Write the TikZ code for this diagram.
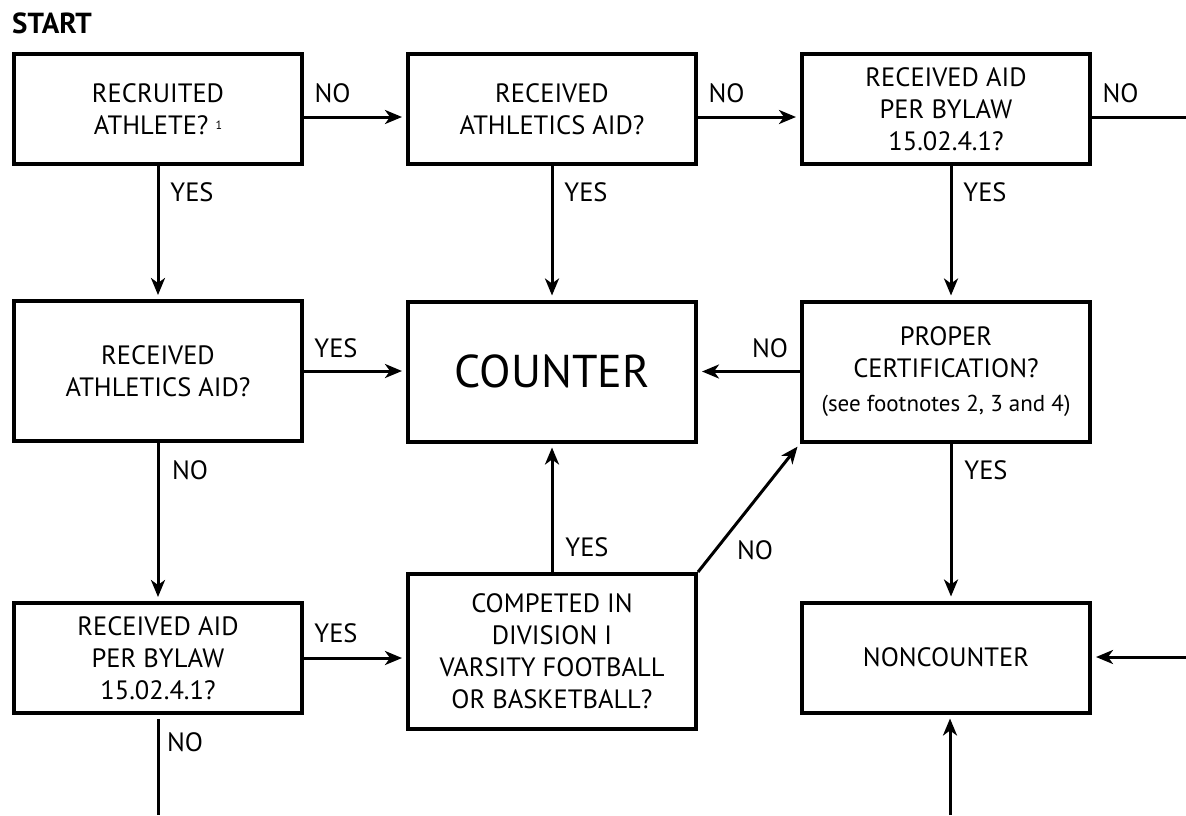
\documentclass[tikz,border=0pt]{standalone}
\usepackage{fontspec}
\setmainfont{PT Sans}
\usetikzlibrary{arrows.meta}
\newcommand\mainsz{\fontsize{26.5}{32}\selectfont}
\newcommand\bigsz{\fontsize{46}{50}\selectfont}
\newcommand\notesz{\fontsize{23}{30}\selectfont}
\begin{document}
\begin{tikzpicture}[x=1pt,y=-1pt,
 box/.style={draw, line width=4pt, minimum width=288pt, inner sep=0pt, align=center, font=\mainsz},
 arr/.style={line width=3pt, shorten >=4pt, -{Stealth[length=17pt,width=14pt,inset=5pt]}},
 ln/.style={line width=3pt},
 lbl/.style={font=\mainsz, inner sep=0pt}]
\useasboundingbox (0,0) rectangle (1186,815);
% boxes
\node[box, minimum height=110pt] (A) at (158,109) {RECRUITED\\ATHLETE?~\raisebox{5pt}{\fontsize{12}{12}\selectfont 1}};
\node[box, minimum height=110pt] (B) at (552,109) {RECEIVED\\ATHLETICS AID?};
\node[box, minimum height=110pt] (C) at (946,109) {RECEIVED AID\\PER BYLAW\\15.02.4.1?};
\node[box, minimum height=140pt] (D) at (158,371) {RECEIVED\\ATHLETICS AID?};
\node[box, minimum height=140pt, font=\bigsz] (E) at (552,371.5) {COUNTER};
\node[box, minimum height=140pt] (F) at (946,371.5) {PROPER\\CERTIFICATION?\\[2pt]{\notesz (see footnotes 2, 3 and 4)}};
\node[box, minimum height=110pt] (G) at (158,658) {RECEIVED AID\\PER BYLAW\\15.02.4.1?};
\node[box, minimum height=155pt] (H) at (552,651.5) {COMPETED IN\\DIVISION I\\VARSITY FOOTBALL\\OR BASKETBALL?};
\node[box, minimum height=110pt] (I) at (946,657.5) {NONCOUNTER};
\node[font=\fontsize{29}{32}\selectfont\bfseries, anchor=west, inner sep=0pt] (S) at (12,23) {START};
% free ends
\coordinate (cR) at (1186,117);
\coordinate (iR) at (1186,657);
\coordinate (iB) at (950,815);
\coordinate (gB) at (157,815);
% connectors
\draw[arr] ([yshift=-8pt]A.east) -- ([yshift=-8pt]B.west);
\draw[arr] ([yshift=-8pt]B.east) -- ([yshift=-8pt]C.west);
\draw[ln] (cR -| C.east) -- (cR);
\draw[arr] (A.south) -- (A.south |- D.north);
\draw[arr] (B.south) -- (B.south |- E.north);
\draw[arr] ([xshift=5pt]C.south) -- ([xshift=5pt]C.south |- F.north);
\draw[arr] (D.east) -- (D.east -| E.west);
\draw[arr] (F.west) -- (F.west -| E.east);
\draw[arr] (D.south) -- (D.south |- G.north);
\draw[arr] (G.east) -- (G.east -| H.west);
\draw[arr] (H.north) -- (H.north |- E.south);
\draw[arr] (H.north east) -- (F.south west);
\draw[arr] ([xshift=5pt]F.south) -- ([xshift=5pt]F.south |- I.north);
\draw[arr] (iR) -- (iR -| I.east);
\draw[arr] (iB) -- (iB |- I.south);
\draw[ln] ([yshift=-4pt]G.south) -- (G.south |- gB);
% labels
\node[lbl] (l1) at (332.5,93) {NO};
\node[lbl] (l2) at (726.5,93) {NO};
\node[lbl] (l3) at (1120.5,93) {NO};
\node[lbl] (l4) at (192,192) {YES};
\node[lbl] (l5) at (586,192) {YES};
\node[lbl] (l6) at (985,192) {YES};
\node[lbl] (l7) at (336,348) {YES};
\node[lbl] (l8) at (770,348) {NO};
\node[lbl] (l9) at (190,470) {NO};
\node[lbl] (l10) at (336,633) {YES};
\node[lbl] (l11) at (587,547) {YES};
\node[lbl] (l12) at (755,550) {NO};
\node[lbl] (l13) at (986,470) {YES};
\node[lbl] (l14) at (185,742) {NO};
\end{tikzpicture}
\end{document}
